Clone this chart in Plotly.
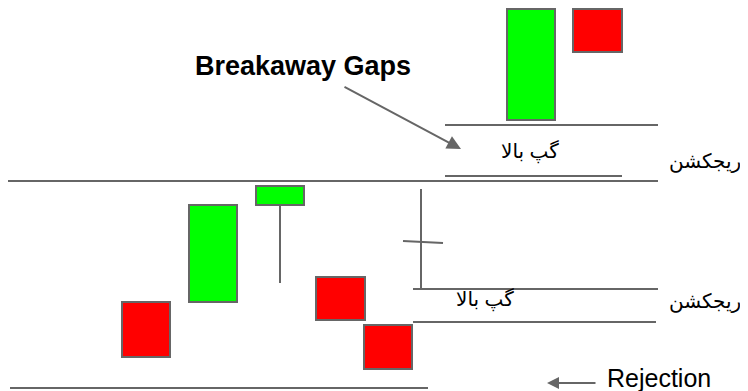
import plotly.graph_objects as go

# Candles (pixel-space diagram coordinates, y grows downward)
candle_left = [507, 573, 122, 189, 256, 316, 364]
candle_right = [555, 622, 170, 237, 304, 365, 412]
candle_top = [9, 9, 302, 205, 186, 277, 325]
candle_bottom = [120, 52, 357, 302, 205, 320, 369]
candle_kind = ["up", "down", "down", "up", "up", "down", "down"]

# Horizontal level lines
level_y = [125, 176, 181, 289, 322, 388]
level_x0 = [445, 445, 8, 413, 413, 10]
level_x1 = [658, 622, 658, 658, 656, 428]

# Other strokes: wick, vertical marker, cross tick
stroke_x0 = [280, 421, 403]
stroke_y0 = [205, 189, 241]
stroke_x1 = [280, 421, 443]
stroke_y1 = [283, 289, 243]

# Texts
gap_label = "گپ بالا"
rej_label = "ریجکشن"
gap_text_x = [530, 485]
gap_text_y = [152, 300]
rej_text_x = [743, 743]
rej_text_y = [161, 301]

colors = {"up": "#00ff00", "down": "#ff0000"}
edge = "#666666"

fig = go.Figure()
fig.add_trace(go.Scatter(x=[8, 748], y=[8, 391], mode="markers",
                         marker=dict(opacity=0), hoverinfo="skip", showlegend=False))

shapes = []
for l, r, t, b, k in zip(candle_left, candle_right, candle_top, candle_bottom, candle_kind):
    shapes.append(dict(type="rect", xref="x", yref="y", x0=l, x1=r, y0=t, y1=b,
                       fillcolor=colors[k], line=dict(color=edge, width=2)))
for y, x0, x1 in zip(level_y, level_x0, level_x1):
    shapes.append(dict(type="line", xref="x", yref="y", x0=x0, x1=x1, y0=y, y1=y,
                       line=dict(color=edge, width=2)))
for x0, y0, x1, y1 in zip(stroke_x0, stroke_y0, stroke_x1, stroke_y1):
    shapes.append(dict(type="line", xref="x", yref="y", x0=x0, x1=x1, y0=y0, y1=y1,
                       line=dict(color=edge, width=2)))

font_fa = "Liberation Sans, DejaVu Sans, sans-serif"
annotations = []
for x, y in zip(gap_text_x, gap_text_y):
    annotations.append(dict(x=x, y=y, xref="x", yref="y", text=gap_label, showarrow=False,
                            font=dict(family=font_fa, size=20, color="#000")))
for x, y in zip(rej_text_x, rej_text_y):
    annotations.append(dict(x=x, y=y, xref="x", yref="y", text=rej_label, showarrow=False,
                            xanchor="right",
                            font=dict(family=font_fa, size=20, color="#000")))

annotations.append(dict(x=303, y=66, xref="x", yref="y", text="<b>Breakaway Gaps</b>",
                        showarrow=False, font=dict(family="Liberation Sans, Arial", size=27, color="#000")))
annotations.append(dict(x=461, y=149, ax=343, ay=86, xref="x", yref="y", axref="x", ayref="y",
                        text="", showarrow=True, arrowhead=2, arrowsize=1.4, arrowwidth=2,
                        arrowcolor=edge, standoff=0, startstandoff=0))
annotations.append(dict(x=605, y=378, xref="x", yref="y", text="Rejection", showarrow=False,
                        xanchor="left", font=dict(family="Liberation Sans, Arial", size=25, color="#000")))
annotations.append(dict(x=547, y=383, ax=597, ay=383, xref="x", yref="y", axref="x", ayref="y",
                        text="", showarrow=True, arrowhead=2, arrowsize=1.2, arrowwidth=2,
                        arrowcolor=edge, standoff=0, startstandoff=0))

# The page body has an 8px margin, so the figure is 8px smaller and its ranges start at 8.
fig.update_layout(
    width=740, height=383,
    margin=dict(l=0, r=0, t=0, b=0),
    paper_bgcolor="white", plot_bgcolor="white",
    xaxis=dict(range=[8, 748], visible=False, fixedrange=True),
    yaxis=dict(range=[391, 8], visible=False, fixedrange=True),
    shapes=shapes, annotations=annotations, showlegend=False,
)
fig.write_html("out.html", config={"displayModeBar": False})
